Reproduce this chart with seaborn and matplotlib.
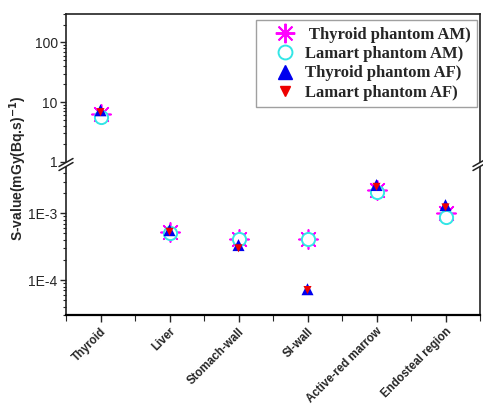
import numpy as np
import pandas as pd
import matplotlib
matplotlib.use("Agg")
import matplotlib.pyplot as plt
import seaborn as sns
from matplotlib.lines import Line2D
from matplotlib.patches import Polygon
from matplotlib.legend_handler import HandlerLine2D
from matplotlib.ticker import FixedLocator, FixedFormatter, LogLocator, NullFormatter, MultipleLocator

# ── Data ───────────────────────────────────────────────
organs = ["Thyroid", "Liver", "Stomach-wall", "SI-wall",
          "Active-red marrow", "Endosteal region"]
thyroid_am = [6.3, 5.3e-4, 4.2e-4, 4.2e-4, 2.24e-3, 1.0e-3]
lamart_am  = [5.6, 5.1e-4, 4.2e-4, 4.2e-4, 2.1e-3, 0.89e-3]
thyroid_af = [7.3, 5.6e-4, 3.35e-4, 7.3e-5, 2.66e-3, 1.33e-3]
lamart_af  = [6.8, 5.3e-4, 3.0e-4, 7.1e-5, 2.5e-3, 1.23e-3]
series_labels = [" Thyroid phantom AM)", "Lamart phantom AM)",
                 "Thyroid phantom AF)", "Lamart phantom AF)"]

df = pd.DataFrame({
    "organ": organs * 4,
    "series": np.repeat(series_labels, len(organs)),
    "value": thyroid_am + lamart_am + thyroid_af + lamart_af,
})

sns.set_style("ticks")
plt.rcParams["font.family"] = ["Liberation Sans", "DejaVu Sans"]

W, H = 483, 407
fig = plt.figure(figsize=(W / 100, H / 100), dpi=100)


def fx(px):
    return px / W


def fy(py):
    return 1 - py / H


left, right = 66, 480
ax_top = fig.add_axes([fx(left), fy(164), fx(right - left), fy(14) - fy(164)])
ax_bot = fig.add_axes([fx(left), fy(315), fx(right - left), fy(164) - fy(315)])

styles = [
    dict(marker=(8, 2, 0), color="#ff00ff", edgecolor=None, linewidths=1.2, s=190),
    dict(marker="o", color="#33e6e6", facecolor="white", edgecolor="#33e6e6", linewidths=1.4, s=90),
    dict(marker="^", color="#0000ee", edgecolor="none", s=75),
    dict(marker="v", color="#ee0000", edgecolor="none", s=34),
]

for ax in (ax_top, ax_bot):
    for lab, st in zip(series_labels, styles):
        sub = df[df["series"] == lab]
        sns.scatterplot(data=sub, x="organ", y="value", ax=ax, legend=False,
                        zorder=3, **st)
    ax.set_yscale("log")
    ax.set_xlim(-0.5, 5.5)
    ax.set_xlabel("")
    ax.set_ylabel("")
    for sp in ax.spines.values():
        sp.set_linewidth(1.2)
        sp.set_color("#222222")
    ax.yaxis.set_minor_locator(LogLocator(base=10, subs=np.arange(2, 10)))
    ax.yaxis.set_minor_formatter(NullFormatter())
    ax.tick_params(axis="y", which="major", direction="out", length=4,
                   width=1, labelsize=10, pad=2)
    ax.tick_params(axis="y", which="minor", direction="out", length=2.5, width=0.8)

# upper segment
ax_top.set_ylim(0.92, 300)
ax_top.yaxis.set_major_locator(FixedLocator([1, 10, 100]))
ax_top.yaxis.set_major_formatter(FixedFormatter(["1", "10", "100"]))
ax_top.spines["bottom"].set_visible(False)
ax_top.tick_params(axis="x", which="both", bottom=False, labelbottom=False)

# lower segment
ax_bot.set_ylim(3e-5, 5.5e-3)
ax_bot.yaxis.set_major_locator(FixedLocator([1e-4, 1e-3]))
ax_bot.yaxis.set_major_formatter(FixedFormatter(["1E-4", "1E-3"]))
ax_bot.spines["top"].set_visible(False)
ax_bot.spines["bottom"].set_linewidth(1.6)
ax_bot.spines["bottom"].set_color("black")
ax_bot.xaxis.set_minor_locator(MultipleLocator(0.5))
ax_bot.tick_params(axis="x", which="major", direction="out", length=5, width=1, pad=2.5)
ax_bot.tick_params(axis="x", which="minor", direction="out", length=4, width=0.8)
ax_bot.set_xticks(range(len(organs)))
ax_bot.set_xticklabels(organs, rotation=45, ha="right", rotation_mode="anchor",
                       fontsize=8.3, fontweight="bold")

# ── Axis break marks ───────────────────────────────────
def break_marks(xp, yp):
    d = 4
    fig.add_artist(Polygon(
        [(fx(xp - 6), fy(yp + 3)), (fx(xp + 6), fy(yp - 4)),
         (fx(xp + 6), fy(yp - 4 + d)), (fx(xp - 6), fy(yp + 3 + d))],
        closed=True, transform=fig.transFigure, facecolor="white",
        edgecolor="none", zorder=10))
    for off in (0, d):
        fig.add_artist(Line2D([fx(xp - 7), fx(xp + 7)],
                              [fy(yp + 3.5 + off), fy(yp - 4.5 + off)],
                              transform=fig.transFigure, color="#222222",
                              lw=1.1, zorder=11))


break_marks(left, 163)
break_marks(right, 163)

# ── Legend ─────────────────────────────────────────────
handles = [
    Line2D([], [], ls="none", marker=(8, 2, 0), color="#ff00ff", markersize=14, mew=1.4),
    Line2D([], [], ls="none", marker="o", mfc="white", mec="#33e6e6", markersize=10, mew=1.4),
    Line2D([], [], ls="none", marker="^", color="#0000ee", markersize=10),
    Line2D([], [], ls="none", marker="v", color="#ee0000", markersize=7),
]
leg = ax_top.legend(handles, series_labels, loc="upper right",
                    bbox_to_anchor=(0.993, 0.96), frameon=True, fancybox=False,
                    prop={"family": "Liberation Serif", "weight": "bold", "size": 12},
                    labelspacing=0.2, handletextpad=0.4, borderpad=0.4,
                    handlelength=2.1, borderaxespad=0,
                    handler_map={Line2D: HandlerLine2D(xpad=0.5)})
leg.get_frame().set_edgecolor("#888888")
leg.get_frame().set_linewidth(1.0)

fig.text(fx(18), fy(168), "S-value(mGy(Bq.s)$^{\\mathbf{-1}}$)", rotation=90,
         ha="center", va="center", fontsize=10, fontweight="bold")

fig.savefig("out.png", dpi=100)
